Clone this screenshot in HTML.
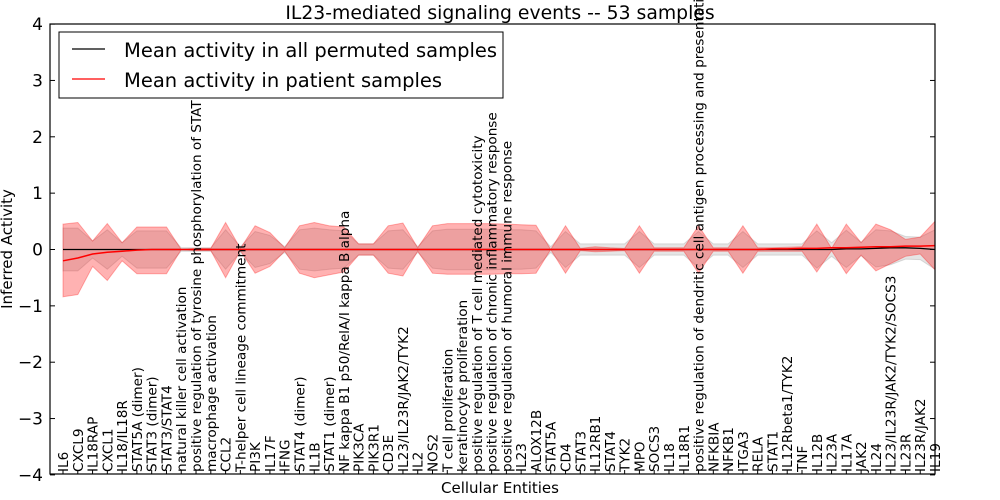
<!DOCTYPE html>
<html><head><meta charset="utf-8"><style>
body{margin:0;background:#fff;}
svg{display:block;font-family:"DejaVu Sans","Liberation Sans",sans-serif;}
</style></head><body>
<svg id="chart" width="1000" height="500">
<rect width="1000" height="500" fill="#fff"/>
<g id="bands"></g>
<g id="lines"></g>
<g id="xlabels"></g>
<rect x="50" y="24" width="885" height="450" fill="none" stroke="#000" stroke-width="1.2"/>
<g id="yaxis"></g>
<text x="500" y="19" font-size="18.8" text-anchor="middle">IL23-mediated signaling events -- 53 samples</text>
<text x="500" y="493" font-size="15" text-anchor="middle">Cellular Entities</text>
<text transform="translate(12,249) rotate(-90)" font-size="15" text-anchor="middle">Inferred Activity</text>
<g>
<rect x="59" y="32" width="444" height="66" fill="#fff" stroke="#000" stroke-width="1"/>
<line x1="72" y1="49" x2="105" y2="49" stroke="#000" stroke-width="1.3"/>
<text x="124" y="57" font-size="19.5">Mean activity in all permuted samples</text>
<line x1="72" y1="79" x2="105" y2="79" stroke="#f00" stroke-width="1.3"/>
<text x="124" y="87" font-size="19.5">Mean activity in patient samples</text>
</g>
</svg>
<script>
const categories=["IL6","CXCL9","IL18RAP","CXCL1","IL18/IL18R","STAT5A (dimer)","STAT3 (dimer)","STAT3/STAT4","natural killer cell activation","positive regulation of tyrosine phosphorylation of STAT","macrophage activation","CCL2","T-helper cell lineage commitment","PI3K","IL17F","IFNG","STAT4 (dimer)","IL1B","STAT1 (dimer)","NF kappa B1 p50/RelA/I kappa B alpha","PIK3CA","PIK3R1","CD3E","IL23/IL23R/JAK2/TYK2","IL2","NOS2","T cell proliferation","keratinocyte proliferation","positive regulation of T cell mediated cytotoxicity","positive regulation of chronic inflammatory response","positive regulation of humoral immune response","IL23","ALOX12B","STAT5A","CD4","STAT3","IL12RB1","STAT4","TYK2","MPO","SOCS3","IL18","IL18R1","positive regulation of dendritic cell antigen processing and presentation","NFKBIA","NFKB1","ITGA3","RELA","STAT1","IL12Rbeta1/TYK2","TNF","IL12B","IL23A","IL17A","JAK2","IL24","IL23/IL23R/JAK2/TYK2/SOCS3","IL23R","IL23R/JAK2","IL19"];
const patientMean=[-0.2,-0.15,-0.08,-0.05,-0.03,-0.01,0,0,0,0,0,0,0,0,0,0,0,0,0,0,0,0,0,0,0,0,0,0,0,0,0,0,0,0,0,0,0,0,0,0,0,0,0,0,0,0,0,0,0.01,0.01,0.02,0.02,0.03,0.03,0.04,0.05,0.05,0.06,0.06,0.07];
const patientUpper=[0.45,0.48,0.15,0.46,0.12,0.4,0.4,0.4,0,0.02,0.02,0.48,0.02,0.42,0.3,0.03,0.42,0.48,0.42,0.4,0.1,0.1,0.42,0.47,0.03,0.42,0.46,0.46,0.46,0.46,0.45,0.44,0.43,0,0.42,0.02,0.05,0.03,0.02,0.42,0.03,0.03,0.03,0.42,0.03,0.03,0.42,0.03,0.03,0.04,0.05,0.45,0.02,0.45,0.12,0.45,0.35,0.18,0.22,0.5];
const patientLower=[-0.84,-0.8,-0.3,-0.55,-0.2,-0.43,-0.43,-0.43,0,-0.02,-0.02,-0.5,-0.02,-0.42,-0.3,-0.03,-0.42,-0.5,-0.45,-0.4,-0.1,-0.1,-0.42,-0.47,-0.03,-0.42,-0.44,-0.44,-0.44,-0.44,-0.43,-0.43,-0.42,0,-0.42,-0.02,-0.04,-0.03,-0.02,-0.42,-0.03,-0.03,-0.03,-0.42,-0.03,-0.03,-0.42,-0.03,-0.03,-0.03,-0.03,-0.4,-0.02,-0.43,-0.1,-0.38,-0.25,-0.12,-0.08,-0.36];
const permMean=[0,0,0,0,0,0,0,0,0,0,0,0,0,0,0,0,0,0,0,0,0,0,0,0,0,0,0,0,0,0,0,0,0,0,0,0,0,0,0,0,0,0,0,0,0,0,0,0,0,0,0,0,0,0.01,0.01,0.02,0.03,0.03,0.02,0];
const permHalf=[0.38,0.38,0.15,0.35,0.12,0.33,0.33,0.33,0.03,0.03,0.03,0.35,0.05,0.32,0.25,0.05,0.35,0.38,0.35,0.33,0.1,0.1,0.33,0.35,0.05,0.33,0.36,0.36,0.36,0.36,0.35,0.35,0.33,0.05,0.32,0.1,0.1,0.1,0.1,0.32,0.1,0.1,0.1,0.32,0.1,0.1,0.32,0.1,0.1,0.1,0.1,0.33,0.12,0.33,0.12,0.33,0.3,0.2,0.2,0.35];
const yTicks=[-4,-3,-2,-1,0,1,2,3,4];
const NS="http://www.w3.org/2000/svg";
function xs(i){return 63+i*14.78;}
function ys(v){return 249.5-v*56.35;}
function mk(tag,attrs,parent){const e=document.createElementNS(NS,tag);for(const k in attrs)e.setAttribute(k,attrs[k]);parent.appendChild(e);return e;}
const bands=document.getElementById('bands'),lines=document.getElementById('lines'),xl=document.getElementById('xlabels'),ya=document.getElementById('yaxis');
function bandPath(up,lo){let d='';up.forEach((v,i)=>{d+=(i?'L':'M')+xs(i).toFixed(1)+','+ys(v).toFixed(1);});for(let i=lo.length-1;i>=0;i--)d+='L'+xs(i).toFixed(1)+','+ys(lo[i]).toFixed(1);return d+'Z';}
const gU=permMean.map((m,i)=>m+permHalf[i]),gL=permMean.map((m,i)=>m-permHalf[i]);
const gb=mk('path',{d:bandPath(gU,gL),fill:'rgba(150,150,150,0.25)',stroke:'rgba(150,150,150,0.3)','stroke-width':1},bands);


const rb=mk('path',{d:bandPath(patientUpper,patientLower),fill:'rgba(255,0,0,0.3)',stroke:'rgba(255,0,0,0.3)','stroke-width':1},bands);


function linePts(arr){return arr.map((v,i)=>xs(i).toFixed(1)+','+ys(v).toFixed(1)).join(' ');}
const bl=mk('polyline',{points:linePts(permMean),fill:'none',stroke:'#000','stroke-width':1.3},lines);


const rl=mk('polyline',{points:linePts(patientMean),fill:'none',stroke:'#f00','stroke-width':1.5},lines);


categories.forEach((c,i)=>{
  const x=xs(i)+5;
  const t=mk('text',{transform:'translate('+x.toFixed(1)+',472) rotate(-90)','font-size':13.6},xl);
  t.textContent=c;
  
  
  mk('line',{x1:xs(i),x2:xs(i),y1:474,y2:470,stroke:'#000'},xl);
});
yTicks.forEach(v=>{
  const y=ys(v);
  mk('line',{x1:50,x2:55,y1:y,y2:y,stroke:'#000'},ya);
  mk('line',{x1:930,x2:935,y1:y,y2:y,stroke:'#000'},ya);
  const t=mk('text',{x:43,y:y+6,'font-size':17,'text-anchor':'end'},ya);
  t.textContent=v<0?'\u2212'+(-v):String(v);
  
  
});
</script>
</body></html>
